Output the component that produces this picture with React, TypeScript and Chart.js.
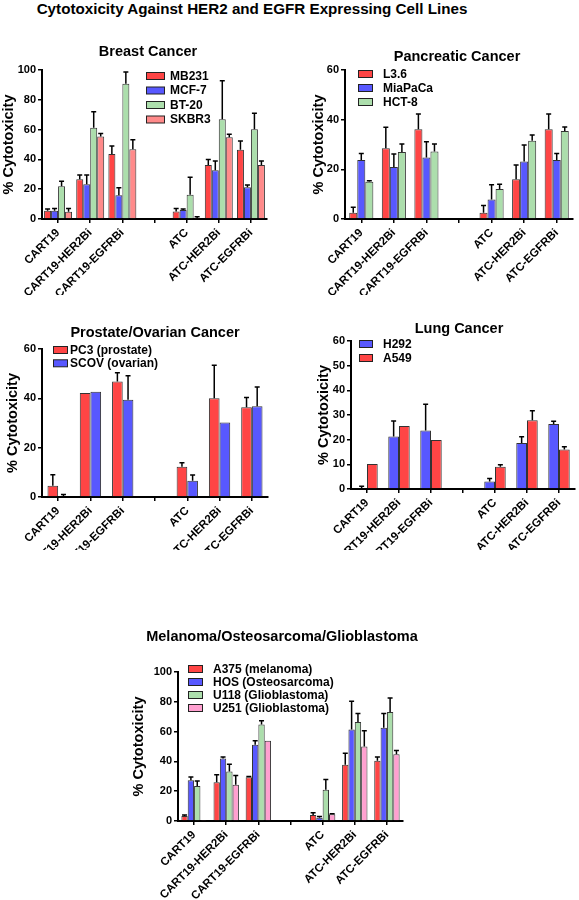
import React, { useEffect, useRef } from "react";
import { Chart, registerables } from "chart.js";
Chart.register(...registerables);

const categories = ["CART19", "CART19-HER2Bi", "CART19-EGFRBi", "", "ATC", "ATC-HER2Bi", "ATC-EGFRBi"];

// Breast cancer
const breastMB231 = [5.6, 26.6, 43.6, null, 5.1, 36.2, 46.5];
const breastMB231Sd = [1.1, 2.9, 5.4, null, 1.9, 3.8, 5.8];
const breastMCF7 = [5.6, 23.3, 15.9, null, 6.0, 32.7, 21.3];
const breastMCF7Sd = [1.4, 6.2, 5.1, null, 0.7, 6.3, 1.5];
const breastBT20 = [21.9, 61.3, 90.8, null, 16.3, 67.0, 60.2];
const breastBT20Sd = [3.4, 10.7, 7.9, null, 11.7, 25.8, 10.8];
const breastSKBR3 = [4.9, 55.3, 46.8, null, 0.3, 54.8, 36.2];
const breastSKBR3Sd = [2.1, 2.0, 6.4, null, 1.2, 2.0, 2.8];

// Pancreatic cancer
const pancL36 = [2.5, 28.5, 36.1, null, 2.5, 16.0, 36.1];
const pancL36Sd = [2.2, 8.4, 6.2, null, 2.9, 5.7, 6.2];
const pancMiaPaCa = [23.8, 20.9, 24.8, null, 7.9, 23.2, 23.8];
const pancMiaPaCaSd = [2.6, 5.3, 6.3, null, 5.9, 6.6, 2.6];
const pancHCT8 = [15.0, 27.0, 27.2, null, 12.1, 31.5, 35.4];
const pancHCT8Sd = [0.4, 3.2, 3.0, null, 1.9, 2.3, 1.6];

// Prostate / ovarian cancer
const prosPC3 = [4.6, 42.2, 46.8, null, 12.3, 40.0, 36.4];
const prosPC3Sd = [4.4, 0, 3.6, null, 1.6, 13.4, 3.9];
const prosSCOV = [0, 42.7, 39.4, null, 6.6, 30.2, 36.8];
const prosSCOVSd = [1.0, 0, 9.8, null, 2.3, 0, 7.8];

// Lung cancer
const lungH292 = [0, 21.3, 23.7, null, 3.0, 18.6, 26.4];
const lungH292Sd = [1.1, 6.3, 10.7, null, 1.3, 2.6, 1.1];
const lungA549 = [10.1, 25.5, 19.9, null, 9.0, 27.9, 16.0];
const lungA549Sd = [0, 0, 0, null, 0.8, 3.8, 1.1];

// Melanoma / osteosarcoma / glioblastoma
const melA375 = [3.4, 26.0, 29.4, null, 4.0, 37.7, 40.4];
const melA375Sd = [0.6, 5.0, 0.4, null, 1.6, 7.8, 2.6];
const melHOS = [27.4, 41.9, 51.1, null, 2.2, 61.4, 62.6];
const melHOSSd = [2.2, 1.1, 2.7, null, 0.9, 18.9, 9.6];
const melU118 = [23.5, 33.2, 64.8, null, 21.0, 66.4, 73.1];
const melU118Sd = [3.4, 4.9, 2.5, null, 6.8, 5.8, 9.4];
const melU251 = [0.7, 24.4, 53.8, null, 4.5, 50.0, 44.8];
const melU251Sd = [0, 6.1, 0, null, 0.4, 10.5, 2.5];

const RED = "#ff4545";
const BLUE = "#5858ff";
const GREEN = "#acdeac";
const SALMON = "#ff8a8a";
const PINK = "#ffa0d0";

const FONT = "'Liberation Sans', Arial, Helvetica, sans-serif";

type Series = { label: string; color: string; values: (number | null)[]; sd: (number | null)[] };
type PanelCfg = {
  left: number; top: number; width: number; height: number;
  title: string; titleX: number; titleY: number;
  series: Series[]; yMax: number; yStep: number;
  padLeft: number; yAxisWidth: number; padTop: number; padRight: number; xAxisHeight: number;
  catPct: number;
  legendX: number; legendY: number; legendGap: number; legendBoxW: number; legendTextX: number;
};

const errorBarPlugin = {
  id: "errbars",
  afterDatasetsDraw(chart: any, _args: any, opts: any) {
    const ctx = chart.ctx;
    const y = chart.scales.y;
    const sds: (number | null)[][] = opts.sd || [];
    chart.data.datasets.forEach((ds: any, i: number) => {
      const meta = chart.getDatasetMeta(i);
      const sd = sds[i] || [];
      meta.data.forEach((bar: any, j: number) => {
        const v = ds.data[j];
        const s = sd[j];
        if (v == null || !s) return;
        const yTop = y.getPixelForValue(v + s);
        const yBase = y.getPixelForValue(v);
        ctx.save();
        ctx.strokeStyle = "#000";
        ctx.lineWidth = 1.5;
        ctx.beginPath();
        ctx.moveTo(bar.x, yBase);
        ctx.lineTo(bar.x, yTop);
        ctx.moveTo(bar.x - 2.5, yTop);
        ctx.lineTo(bar.x + 2.5, yTop);
        ctx.stroke();
        ctx.restore();
      });
    });
  },
};

const boxLegendPlugin = {
  id: "boxLegend",
  afterDraw(chart: any, _args: any, opts: any) {
    const ctx = chart.ctx;
    const items = opts.items || [];
    ctx.save();
    ctx.font = `bold 12px ${FONT}`;
    ctx.textBaseline = "middle";
    ctx.textAlign = "left";
    items.forEach((it: any, i: number) => {
      const cy = opts.y + i * opts.gap;
      ctx.fillStyle = it.color;
      ctx.fillRect(opts.x, cy - 3.5, opts.boxW, 7);
      ctx.strokeStyle = "#222";
      ctx.lineWidth = 1;
      ctx.strokeRect(opts.x + 0.5, cy - 3.5, opts.boxW - 1, 7);
      ctx.fillStyle = "#000";
      ctx.fillText(it.label, opts.textX, cy + 0.5);
    });
    ctx.restore();
  },
};

const panelTitlePlugin = {
  id: "panelTitle",
  afterDraw(chart: any, _args: any, opts: any) {
    const ctx = chart.ctx;
    ctx.save();
    ctx.font = `bold 14.5px ${FONT}`;
    ctx.fillStyle = "#000";
    ctx.textAlign = "center";
    ctx.textBaseline = "middle";
    ctx.fillText(opts.text, opts.x, opts.y);
    ctx.restore();
  },
};

const panels: PanelCfg[] = [
  {
    left: 0, top: 40, width: 285, height: 255,
    title: "Breast Cancer", titleX: 148, titleY: 12,
    series: [
      { label: "MB231", color: RED, values: breastMB231, sd: breastMB231Sd },
      { label: "MCF-7", color: BLUE, values: breastMCF7, sd: breastMCF7Sd },
      { label: "BT-20", color: GREEN, values: breastBT20, sd: breastBT20Sd },
      { label: "SKBR3", color: SALMON, values: breastSKBR3, sd: breastSKBR3Sd },
    ],
    yMax: 100, yStep: 20,
    padLeft: 0, yAxisWidth: 42, padTop: 30, padRight: 18, xAxisHeight: 76,
    catPct: 0.87,
    legendX: 146, legendY: 36, legendGap: 14.5, legendBoxW: 19, legendTextX: 170,
  },
  {
    left: 290, top: 40, width: 289, height: 255,
    title: "Pancreatic Cancer", titleX: 167, titleY: 17,
    series: [
      { label: "L3.6", color: RED, values: pancL36, sd: pancL36Sd },
      { label: "MiaPaCa", color: BLUE, values: pancMiaPaCa, sd: pancMiaPaCaSd },
      { label: "HCT-8", color: GREEN, values: pancHCT8, sd: pancHCT8Sd },
    ],
    yMax: 60, yStep: 20,
    padLeft: 20, yAxisWidth: 35, padTop: 30, padRight: 6, xAxisHeight: 76,
    catPct: 0.74,
    legendX: 68, legendY: 34, legendGap: 14, legendBoxW: 15, legendTextX: 93,
  },
  {
    left: 0, top: 310, width: 285, height: 240,
    title: "Prostate/Ovarian Cancer", titleX: 155, titleY: 23,
    series: [
      { label: "PC3 (prostate)", color: RED, values: prosPC3, sd: prosPC3Sd },
      { label: "SCOV (ovarian)", color: BLUE, values: prosSCOV, sd: prosSCOVSd },
    ],
    yMax: 60, yStep: 20,
    padLeft: 4, yAxisWidth: 38, padTop: 39, padRight: 17, xAxisHeight: 53,
    catPct: 0.66,
    legendX: 53, legendY: 40, legendGap: 13.3, legendBoxW: 15, legendTextX: 70,
  },
  {
    left: 290, top: 310, width: 289, height: 240,
    title: "Lung Cancer", titleX: 169, titleY: 19,
    series: [
      { label: "H292", color: BLUE, values: lungH292, sd: lungH292Sd },
      { label: "A549", color: RED, values: lungA549, sd: lungA549Sd },
    ],
    yMax: 60, yStep: 10,
    padLeft: 25, yAxisWidth: 36, padTop: 31, padRight: 4, xAxisHeight: 61,
    catPct: 0.67,
    legendX: 69, legendY: 34, legendGap: 14, legendBoxW: 14, legendTextX: 93,
  },
  {
    left: 130, top: 600, width: 300, height: 300,
    title: "Melanoma/Osteosarcoma/Glioblastoma", titleX: 152, titleY: 37,
    series: [
      { label: "A375 (melanoma)", color: RED, values: melA375, sd: melA375Sd },
      { label: "HOS (Osteosarcoma)", color: BLUE, values: melHOS, sd: melHOSSd },
      { label: "U118 (Glioblastoma)", color: GREEN, values: melU118, sd: melU118Sd },
      { label: "U251 (Glioblastoma)", color: PINK, values: melU251, sd: melU251Sd },
    ],
    yMax: 100, yStep: 20,
    padLeft: 0, yAxisWidth: 48, padTop: 72, padRight: 27, xAxisHeight: 79,
    catPct: 0.79,
    legendX: 58, legendY: 69, legendGap: 13, legendBoxW: 15, legendTextX: 83,
  },
];

function Panel({ cfg }: { cfg: PanelCfg }) {
  const ref = useRef<HTMLCanvasElement | null>(null);
  useEffect(() => {
    if (!ref.current) return;
    const axisGrid = {
      display: true,
      drawOnChartArea: false,
      drawTicks: true,
      tickLength: 4,
      color: "#000",
      lineWidth: 1.5,
    };
    const chart = new Chart(ref.current, {
      type: "bar",
      data: {
        labels: categories,
        datasets: cfg.series.map((s) => ({
          label: s.label,
          data: s.values as any,
          backgroundColor: s.color,
          borderColor: "#333",
          borderWidth: 1,
          categoryPercentage: cfg.catPct,
          barPercentage: 1,
        })),
      },
      options: {
        responsive: false,
        animation: false,
        layout: { padding: { left: cfg.padLeft, top: cfg.padTop, right: cfg.padRight, bottom: 0 } },
        plugins: {
          legend: { display: false },
          tooltip: { enabled: false },
          title: { display: false },
          errbars: { sd: cfg.series.map((s) => s.sd) },
          boxLegend: {
            x: cfg.legendX, y: cfg.legendY, gap: cfg.legendGap, boxW: cfg.legendBoxW, textX: cfg.legendTextX,
            items: cfg.series.map((s) => ({ label: s.label, color: s.color })),
          },
          panelTitle: { text: cfg.title, x: cfg.titleX, y: cfg.titleY },
        } as any,
        scales: {
          x: {
            type: "category",
            offset: true,
            grid: { ...axisGrid, offset: false },
            border: { display: true, color: "#000", width: 2 },
            ticks: {
              autoSkip: false,
              maxRotation: 45,
              minRotation: 45,
              color: "#000",
              padding: 3,
              font: { family: FONT, size: 11.5, weight: "bold" },
            },
            afterFit: (s: any) => { s.height = cfg.xAxisHeight; },
          },
          y: {
            min: 0,
            max: cfg.yMax,
            ticks: {
              stepSize: cfg.yStep,
              color: "#000",
              padding: 2,
              font: { family: FONT, size: 11, weight: "bold" },
            },
            grid: axisGrid,
            border: { display: true, color: "#000", width: 2 },
            title: {
              display: true,
              text: "% Cytotoxicity",
              color: "#000",
              font: { family: FONT, size: 14.5, weight: "bold" },
              padding: { top: 0, bottom: 0 },
            },
            afterFit: (s: any) => { s.width = cfg.yAxisWidth; },
          },
        } as any,
      },
      plugins: [errorBarPlugin, boxLegendPlugin, panelTitlePlugin],
    });
    return () => chart.destroy();
  }, [cfg]);
  return (
    <canvas
      ref={ref}
      width={cfg.width}
      height={cfg.height}
      style={{ position: "absolute", left: cfg.left, top: cfg.top, width: cfg.width, height: cfg.height }}
    />
  );
}

export default function App() {
  return (
    <div style={{ position: "absolute", left: 0, top: 0, width: 579, height: 900, background: "#fff", fontFamily: FONT }}>
      <div
        style={{
          position: "absolute", left: 0, top: 0, width: 504, textAlign: "center",
          font: `bold 15.2px ${FONT}`, lineHeight: "17px", color: "#000",
        }}
      >
        Cytotoxicity Against HER2 and EGFR Expressing Cell Lines
      </div>
      {panels.map((p, i) => (
        <Panel key={i} cfg={p} />
      ))}
    </div>
  );
}
